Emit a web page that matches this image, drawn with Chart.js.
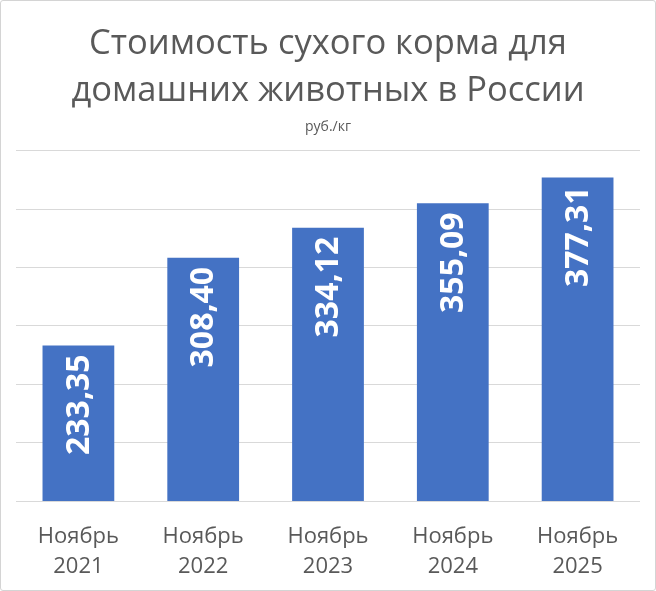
<!DOCTYPE html>
<html>
<head>
<meta charset="utf-8">
<script src="https://cdn.jsdelivr.net/npm/chart.js@4/dist/chart.umd.min.js"></script>
<style>
  html, body { margin: 0; padding: 0; background: #fff; }
  #wrap { width: 656px; height: 591px; box-sizing: border-box; border: 1px solid #d4d4d4; border-radius: 3px; position: relative; }
  canvas { display: block; }
</style>
</head>
<body>
<div id="wrap"><canvas id="c" width="654" height="589"></canvas></div>
<script>
const categories = [["Ноябрь", "2021"], ["Ноябрь", "2022"], ["Ноябрь", "2023"], ["Ноябрь", "2024"], ["Ноябрь", "2025"]];
const values = [233.35, 308.40, 334.12, 355.09, 377.31];
const titleLines = ["Стоимость сухого корма для", "домашних животных в России"];
const subtitleText = "руб./кг";

const FONT = "'Open Sans', 'DejaVu Sans', sans-serif";
const GRAY = "#595959";

const barLabels = {
  id: 'barLabels',
  afterDatasetsDraw(chart) {
    const ctx = chart.ctx;
    const meta = chart.getDatasetMeta(0);
    ctx.save();
    ctx.fillStyle = '#ffffff';
    ctx.font = "bold 32px " + FONT;
    ctx.textAlign = 'right';
    ctx.textBaseline = 'middle';
    meta.data.forEach((bar, i) => {
      const v = chart.data.datasets[0].data[i];
      const txt = v.toFixed(2).replace('.', ',');
      ctx.save();
      ctx.translate(bar.x + 1, bar.y + 9);
      ctx.rotate(-Math.PI / 2);
      ctx.fillText(txt, 0, 0);
      ctx.restore();
    });
    ctx.restore();
  }
};

new Chart(document.getElementById('c'), {
  type: 'bar',
  data: {
    labels: categories,
    datasets: [{
      data: values,
      backgroundColor: '#4472C4',
      borderWidth: 0,
      barPercentage: 0.575,
      categoryPercentage: 1.0
    }]
  },
  options: {
    responsive: false,
    animation: false,
    devicePixelRatio: 1,
    layout: { padding: { left: 15, right: 15, top: 0, bottom: 0 } },
    plugins: {
      legend: { display: false },
      tooltip: { enabled: false },
      title: {
        display: true,
        text: titleLines,
        color: GRAY,
        font: { family: FONT, size: 34.5, weight: 'normal', lineHeight: 1.35 },
        padding: { top: 20, bottom: 4 }
      },
      subtitle: {
        display: true,
        text: subtitleText,
        color: GRAY,
        font: { family: FONT, size: 14, weight: 'normal', lineHeight: 1.2 },
        padding: { top: 0, bottom: 16 }
      }
    },
    scales: {
      x: {
        grid: { display: false },
        border: { display: false },
        afterFit(scale) { scale.height = 89; },
        ticks: {
          color: GRAY,
          font: { family: FONT, size: 22, lineHeight: 1.36 },
          padding: 13,
          maxRotation: 0,
          autoSkip: false
        }
      },
      y: {
        min: 100,
        max: 400,
        ticks: { display: false, stepSize: 50 },
        grid: { color: '#d9d9d9', lineWidth: 1, drawTicks: false },
        border: { display: false }
      }
    }
  },
  plugins: [barLabels]
});
</script>
</body>
</html>
